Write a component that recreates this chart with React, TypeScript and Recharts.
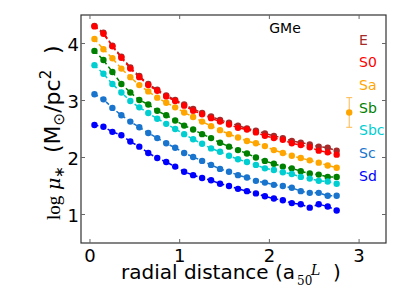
import { ComposedChart, Customized, ErrorBar, Line, XAxis, YAxis } from 'recharts';

// Perfiles radiales de densidad superficial de masa por tipo morfologico (GMe).

const RADIUS = [0.05, 0.15, 0.25, 0.35, 0.45, 0.55, 0.65, 0.75, 0.85, 0.95, 1.05, 1.15, 1.25, 1.35,
  1.45, 1.55, 1.65, 1.75, 1.85, 1.95, 2.05, 2.15, 2.25, 2.35, 2.45, 2.55, 2.65, 2.75];

const E = [4.31, 4.19, 3.96, 3.77, 3.58, 3.43, 3.29, 3.19, 3.09, 3.01, 2.93, 2.85, 2.78, 2.72,
  2.66, 2.61, 2.56, 2.51, 2.47, 2.42, 2.38, 2.34, 2.29, 2.26, 2.23, 2.19, 2.17, 2.12];
const S0 = [4.30, 4.17, 3.95, 3.75, 3.56, 3.41, 3.27, 3.17, 3.07, 2.99, 2.91, 2.82, 2.76, 2.69,
  2.63, 2.58, 2.52, 2.49, 2.44, 2.38, 2.34, 2.31, 2.25, 2.22, 2.18, 2.12, 2.09, 2.05];
const SA = [4.08, 3.90, 3.74, 3.56, 3.41, 3.27, 3.16, 3.05, 2.96, 2.88, 2.79, 2.71, 2.63, 2.55,
  2.48, 2.41, 2.35, 2.29, 2.25, 2.20, 2.13, 2.08, 2.03, 1.99, 1.95, 1.91, 1.86, 1.82];
const SB = [3.87, 3.71, 3.50, 3.29, 3.14, 3.01, 2.93, 2.82, 2.74, 2.65, 2.56, 2.49, 2.41, 2.34,
  2.26, 2.19, 2.13, 2.07, 2.00, 1.94, 1.89, 1.84, 1.81, 1.76, 1.72, 1.70, 1.66, 1.66];
const SBC = [3.62, 3.47, 3.29, 3.14, 2.99, 2.88, 2.78, 2.68, 2.59, 2.50, 2.41, 2.32, 2.24, 2.16,
  2.10, 2.03, 1.97, 1.92, 1.87, 1.81, 1.78, 1.74, 1.71, 1.66, 1.63, 1.59, 1.58, 1.54];
const SC = [3.11, 3.02, 2.87, 2.74, 2.63, 2.53, 2.43, 2.34, 2.25, 2.17, 2.08, 2.01, 1.94, 1.87,
  1.80, 1.75, 1.69, 1.65, 1.59, 1.56, 1.52, 1.50, 1.47, 1.41, 1.38, 1.38, 1.33, 1.33];
const SD = [2.57, 2.54, 2.45, 2.39, 2.28, 2.19, 2.08, 1.99, 1.92, 1.84, 1.75, 1.69, 1.64, 1.60,
  1.54, 1.50, 1.45, 1.41, 1.37, 1.32, 1.28, 1.25, 1.20, 1.18, 1.12, 1.18, 1.14, 1.07];

const TYPES = ['E', 'S0', 'Sa', 'Sb', 'Sbc', 'Sc', 'Sd'];
const VALUES = [E, S0, SA, SB, SBC, SC, SD];
const COLORS = ['#a52a2a', '#ff0000', '#ffa500', '#008000', '#00ced1', '#1874cd', '#0000ff'];

const X_TICKS = [0, 1, 2, 3];
const Y_TICKS = [1, 2, 3, 4];

// barra de error tipica
const ERR_POINT = [{ r: 2.89, v: 2.79, err: 0.26 }];

const rows = RADIUS.map((r, i) => {
  const row: Record<string, number> = { r };
  TYPES.forEach((t, k) => (row[t] = VALUES[k][i]));
  return row;
});

const FONT = 'DejaVu Sans';
const SERIF = 'DejaVu Serif';
const L = 81, R = 386, T = 15, B = 243;

function XTick({ x, payload }: any) {
  return (
    <g>
      <line x1={x} x2={x} y1={B} y2={B - 4} stroke="#666" />
      <line x1={x} x2={x} y1={T} y2={T + 4} stroke="#666" />
      <text x={x} y={B + 19} textAnchor="middle" fontSize={18} fontFamily={FONT} fill="#000">
        {payload.value}
      </text>
    </g>
  );
}

function YTick({ y, payload }: any) {
  return (
    <g>
      <line x1={L} x2={L + 4} y1={y} y2={y} stroke="#666" />
      <line x1={R} x2={R - 4} y1={y} y2={y} stroke="#666" />
      <text x={L - 2} y={y + 7} textAnchor="end" fontSize={18} fontFamily={FONT} fill="#000">
        {payload.value}
      </text>
    </g>
  );
}

function Decor() {
  return (
    <g fontFamily={FONT}>
      <rect x={L} y={T} width={R - L} height={B - T} fill="none" stroke="#333" strokeWidth={1.2} />
      <text x={285} y={32.5} textAnchor="middle" fontSize={14} fill="#000">GMe</text>
      {TYPES.map((t, i) => (
        <text key={t} x={359} y={44.5 + i * 22.7} fontSize={14} fill={COLORS[i]}>{t}</text>
      ))}
      <text y={279} fontSize={20} fill="#000">
        <tspan x={121}>radial distance (a</tspan>
        <tspan x={297} y={285} fontFamily={SERIF} fontSize={12}>50</tspan>
        <tspan x={311} y={275} fontFamily={SERIF} fontStyle="italic" fontSize={14}>L</tspan>
        <tspan x={333} y={279}>)</tspan>
      </text>
      {/* etiqueta vertical: coordenada local x = -y de pantalla, linea base en x=60 */}
      <text transform="translate(60 0) rotate(-90)" y={0} fontSize={22} fill="#000">
        <tspan x={-220} fontFamily="Liberation Serif" fontSize={19}>log</tspan>
        <tspan x={-190} fontFamily={SERIF} fontStyle="italic" fontSize={19}>μ</tspan>
        <tspan dy={4} fontSize={14}>∗</tspan>
        <tspan x={-153} dy={-4}>(M</tspan>
        <tspan dy={4} fontSize={15}>⊙</tspan>
        <tspan dy={-4}>/pc</tspan>
        <tspan dy={-9} fontSize={15}>2</tspan>
        <tspan x={-54} dy={9}>)</tspan>
      </text>
    </g>
  );
}

export default function App() {
  return (
    <div style={{ position: 'absolute', left: 0, top: 0, width: 406, height: 304, background: '#fff' }}>
      <ComposedChart width={406} height={304} data={rows} margin={{ top: T, right: 406 - R, left: 0, bottom: 0 }}>
        <XAxis
          dataKey="r"
          type="number"
          domain={[-0.1, 3.3]}
          ticks={X_TICKS}
          interval={0}
          allowDataOverflow
          height={304 - B}
          axisLine={false}
          tickLine={false}
          tickSize={0}
          tickMargin={0}
          tick={<XTick />}
        />
        <YAxis
          type="number"
          domain={[0.5, 4.5]}
          ticks={Y_TICKS}
          interval={0}
          allowDataOverflow
          width={L}
          axisLine={false}
          tickLine={false}
          tickSize={0}
          tickMargin={0}
          tick={<YTick />}
        />
        {TYPES.map((t, i) => (
          <Line
            key={t}
            dataKey={t}
            type="linear"
            stroke={COLORS[i]}
            strokeWidth={1.5}
            strokeDasharray="4 3"
            dot={{ r: 3.2, fill: COLORS[i], stroke: COLORS[i], strokeWidth: 0 }}
            activeDot={false}
            isAnimationActive={false}
          />
        ))}
        <Line
          data={ERR_POINT}
          dataKey="v"
          stroke="none"
          dot={{ r: 3.2, fill: '#ffa500', stroke: '#ffa500', strokeWidth: 0 }}
          activeDot={false}
          isAnimationActive={false}
        >
          <ErrorBar dataKey="err" width={3} stroke="#ffb84d" strokeWidth={1} direction="y" />
        </Line>
        <Customized component={<Decor />} />
      </ComposedChart>
    </div>
  );
}
